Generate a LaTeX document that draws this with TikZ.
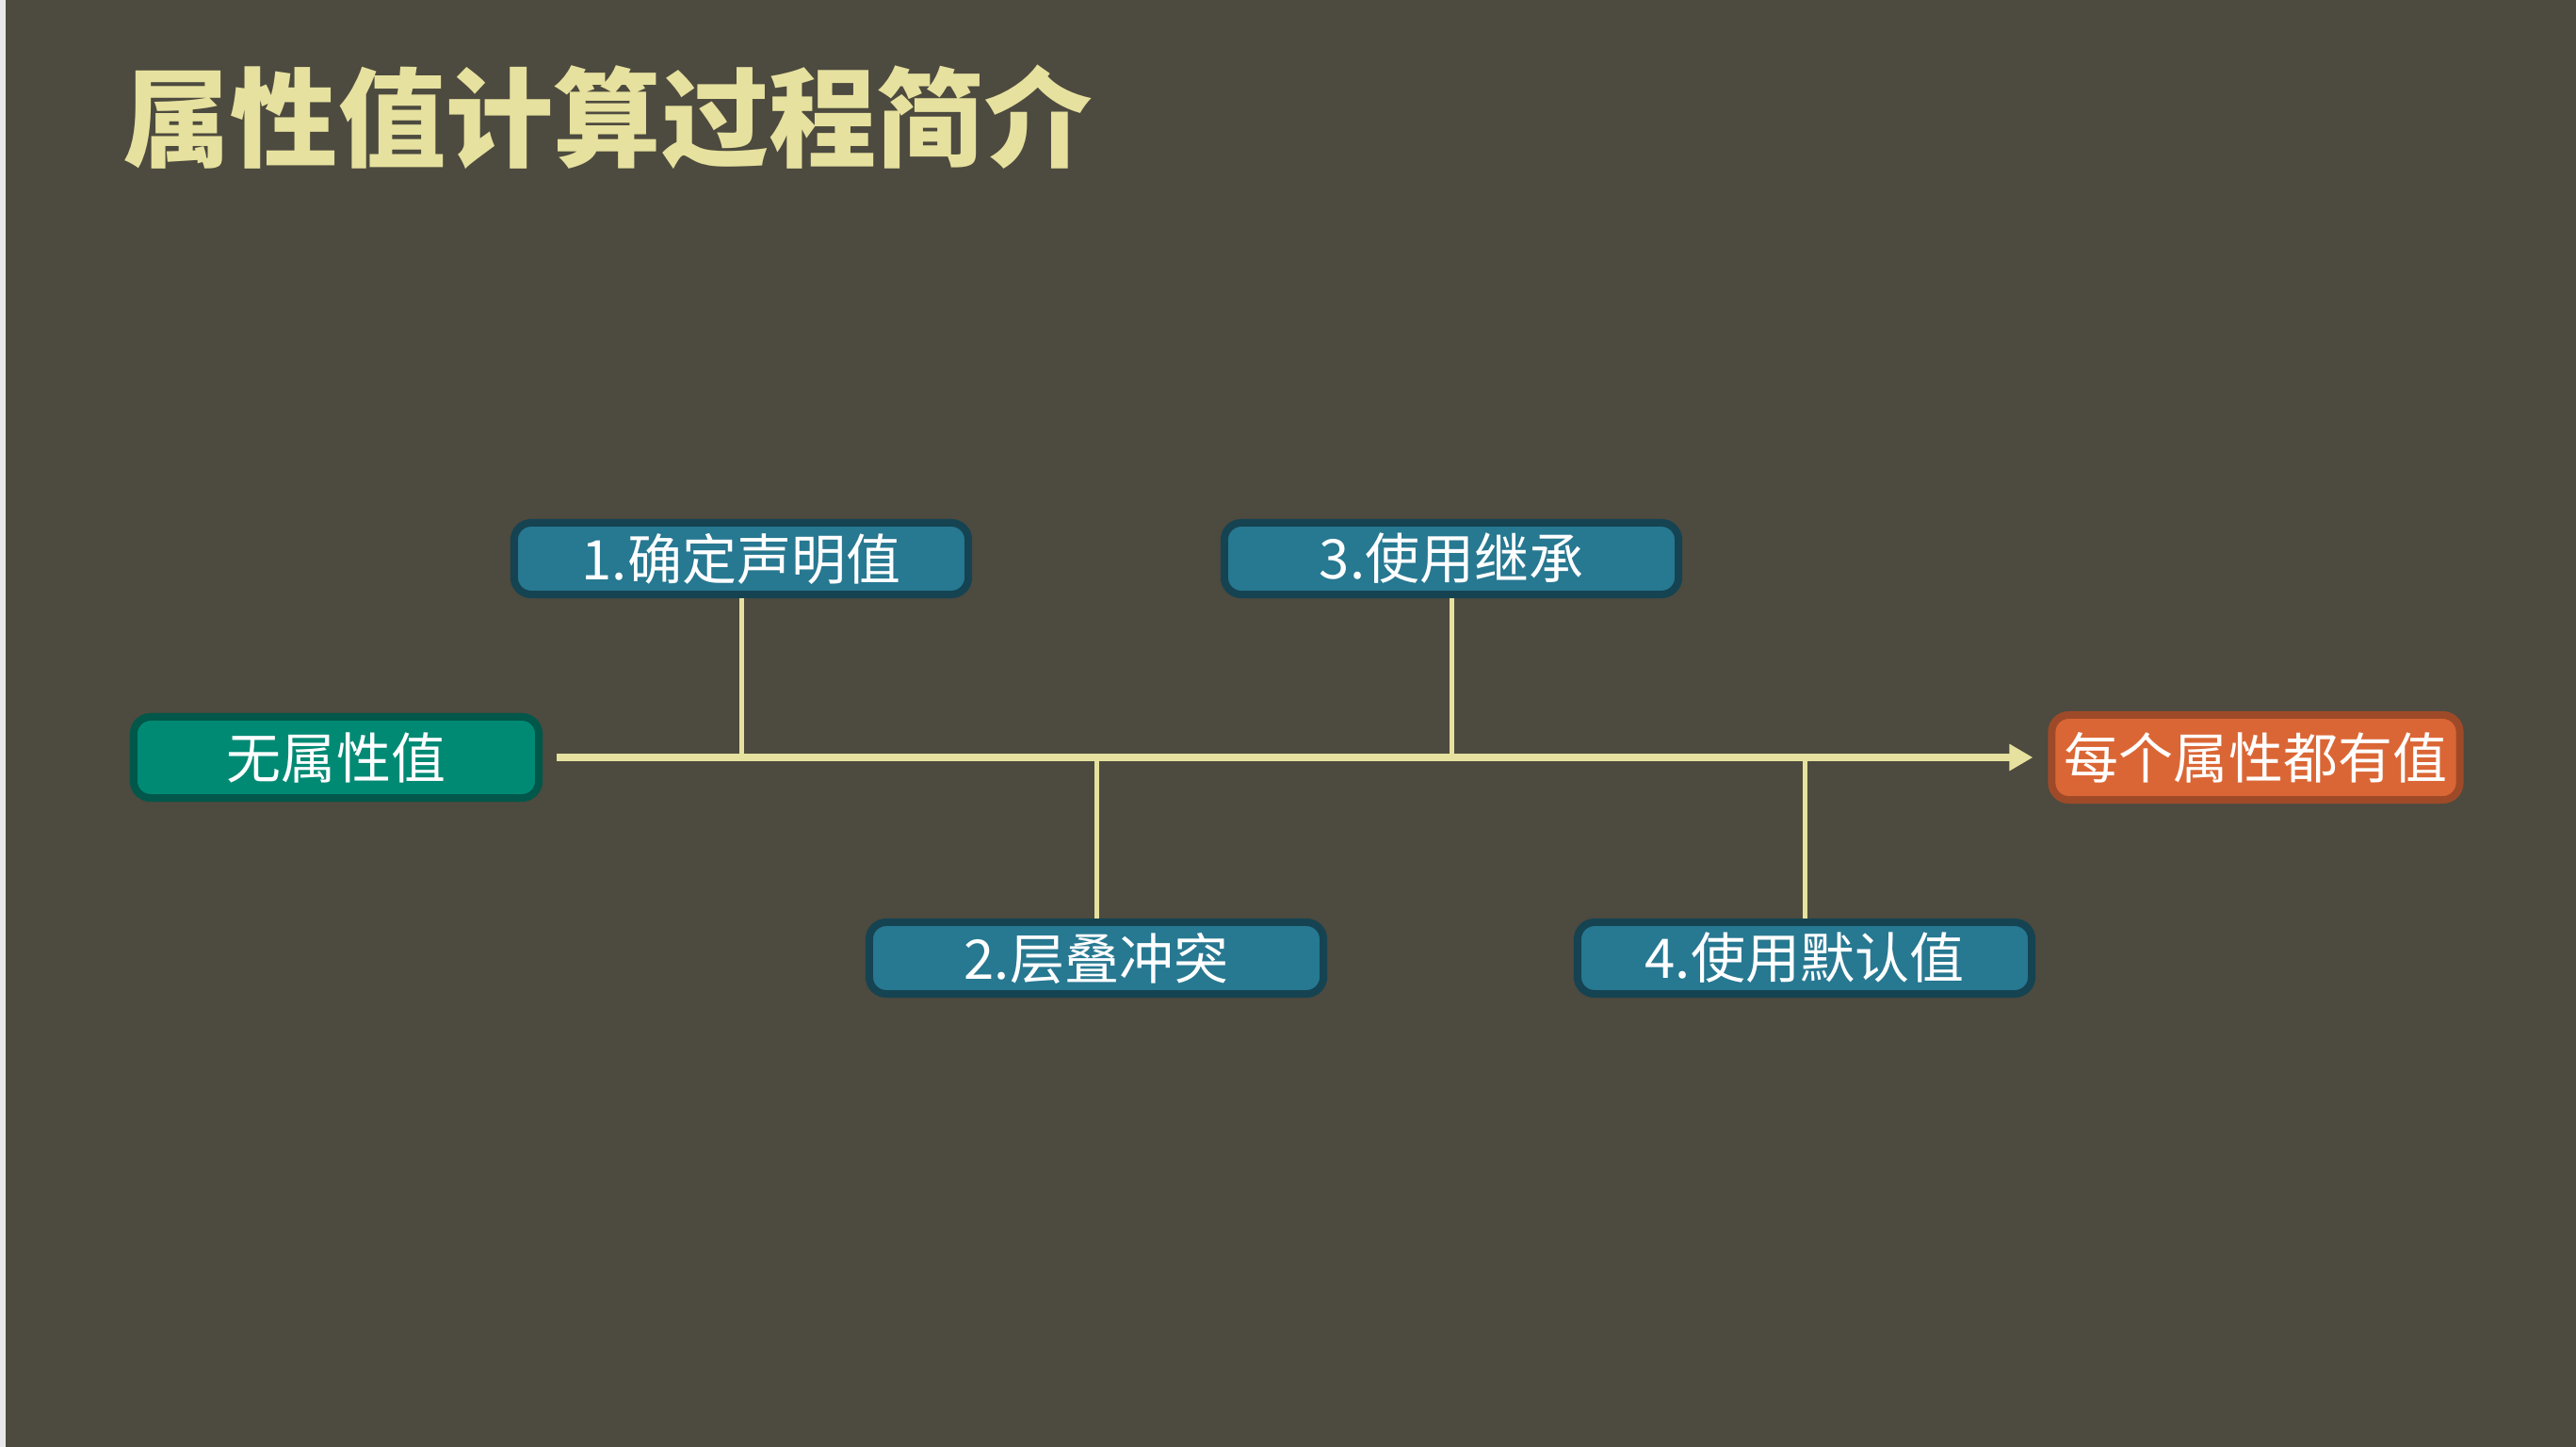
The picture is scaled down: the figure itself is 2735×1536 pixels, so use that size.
\documentclass[tikz,border=0pt]{standalone}
\usepackage{fontspec}
\newfontfamily\cjk{Noto Sans CJK SC}
\usetikzlibrary{arrows.meta,positioning}
\definecolor{bgcol}{HTML}{4D4A3F}
\definecolor{edgecol}{HTML}{E8E8EA}
\definecolor{pale}{HTML}{E6E19E}
\definecolor{bluefill}{HTML}{277891}
\definecolor{blueedge}{HTML}{154351}
\definecolor{greenfill}{HTML}{008A74}
\definecolor{greenedge}{HTML}{00574A}
\definecolor{orangefill}{HTML}{DB6635}
\definecolor{orangeedge}{HTML}{9E4A29}

\begin{document}
\begin{tikzpicture}[
    x=0.01cm, y=-0.01cm,
    inner sep=0pt, %labels sit tight
    bbox/.style={rounded corners=0.18cm,draw=blueedge,fill=bluefill,
        line width=0.08cm,minimum width=4.82cm,minimum height=0.76cm,
        text=white,font=\cjk\fontsize{16.5}{20}\selectfont},
    gbox/.style={bbox,draw=greenedge,fill=greenfill,
        minimum width=4.30cm,minimum height=0.86cm},
    obox/.style={bbox,draw=orangeedge,fill=orangefill,
        minimum width=4.33cm,minimum height=0.90cm},
    vline/.style={draw=pale,line width=0.05cm},
    >={Triangle[length=0.25cm,width=0.27cm]},
    ]
    \fill[bgcol] (0,0) rectangle (2735,1536);
    \fill[edgecol] (0,0) rectangle (6,1536);
    \useasboundingbox (0,0) rectangle (2735,1536);

    \node[anchor=west,text=pale,font=\cjk\bfseries\fontsize{32.5}{38}\selectfont]
        (title) at (130,124) {属性值计算过程简介};

    \node[gbox] (start) at (357,804) {无属性值};
    \node[obox] (end) at (2395,804) {每个属性都有值};
    \node[bbox] (s1) at (787,593) {1.确定声明值};
    \node[bbox] (s2) at (1164,1017) {2.层叠冲突};
    \node[bbox] (s3) at (1541,593) {3.使用继承};
    \node[bbox] (s4) at (1916,1017) {4.使用默认值};
    \coordinate (axis) at (0,803);

    \draw[vline] (s1.south) -- (s1.south |- axis);
    \draw[vline] (s2.north) -- (s2.north |- axis);
    \draw[vline] (s3.south) -- (s3.south |- axis);
    \draw[vline] (s4.north) -- (s4.north |- axis);
    \draw[pale,line width=0.08cm,->,shorten <=0.15cm,shorten >=0.16cm]
        (start) -- (end);
\end{tikzpicture}
\end{document}
